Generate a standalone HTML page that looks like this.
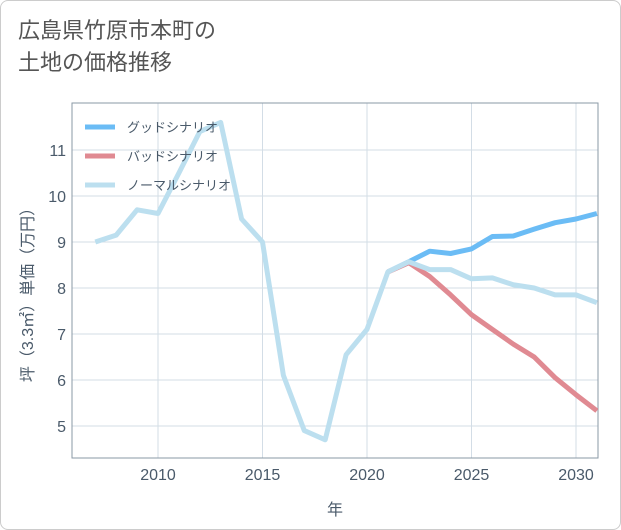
<!DOCTYPE html>
<html><head><meta charset="utf-8">
<style>
body{margin:0;background:#fff;}
#card{position:absolute;left:0;top:0;width:619px;height:528px;border:1px solid #ccc;border-radius:8px;background:#fff;overflow:hidden;}
#title{position:absolute;left:17px;top:14px;font:22px/32px "Liberation Sans","Noto Sans CJK JP",sans-serif;color:#555;}
svg text{font-family:"Liberation Sans","Noto Sans CJK JP",sans-serif;}
</style></head>
<body>
<div id="card">
<div id="title">広島県竹原市本町の<br>土地の価格推移</div>
<svg id="chart" width="621" height="530" style="position:absolute;left:0;top:0"></svg>
</div>
<script>
const years=[2007,2008,2009,2010,2011,2012,2013,2014,2015,2016,2017,2018,2019,2020,2021,2022,2023,2024,2025,2026,2027,2028,2029,2030,2031];
const normalValues=[9.0,9.15,9.7,9.62,10.5,11.4,11.6,9.5,9.0,6.1,4.9,4.7,6.55,7.1,8.35,8.57,8.4,8.4,8.2,8.22,8.07,8.0,7.85,7.85,7.68];
const futureYears=[2021,2022,2023,2024,2025,2026,2027,2028,2029,2030,2031];
const goodValues=[8.35,8.57,8.8,8.75,8.85,9.12,9.13,9.28,9.42,9.5,9.62];
const badValues=[8.35,8.55,8.25,7.85,7.42,7.1,6.78,6.5,6.05,5.68,5.33];
const xTicks=[2010,2015,2020,2025,2030];
const yTicks=[5,6,7,8,9,10,11];
const legendLabels=["グッドシナリオ","バッドシナリオ","ノーマルシナリオ"];
const legendColors=["#6bbcf5","#e08a92","#bcdfef"];

const L=71,R=597,T=102,B=457;
const x=v=>157+(v-2010)*20.9;
const y=v=>195-(v-10)*46;
const svg=document.getElementById('chart');
const NS='http://www.w3.org/2000/svg';
function mk(tag,attrs,parent){const e=document.createElementNS(NS,tag);for(const k in attrs)e.setAttribute(k,attrs[k]);(parent||svg).appendChild(e);return e;}

xTicks.forEach(t=>{
  const g=mk('line',{x1:x(t),x2:x(t),y1:T,y2:B,stroke:'#d3dde6','stroke-width':1});
  
  
  const tx=mk('text',{x:x(t),y:B+22,'text-anchor':'middle','font-size':16,fill:'#4a5a6a'});
  tx.textContent=t;
  
  
});
yTicks.forEach(t=>{
  const g=mk('line',{x1:L,x2:R,y1:y(t),y2:y(t),stroke:'#d3dde6','stroke-width':1});
  
  
  const tx=mk('text',{x:L-6,y:y(t)+6,'text-anchor':'end','font-size':16,fill:'#4a5a6a'});
  tx.textContent=t;
  
  
});
const frame=mk('rect',{x:L,y:T,width:R-L,height:B-T,fill:'none',stroke:'#8a98a6','stroke-width':1});



const defs=mk('defs',{});
const cp=mk('clipPath',{id:'clip'},defs);
mk('rect',{x:L,y:T,width:R-L,height:B-T},cp);

function line(xs,vs,color,name){
  const d=xs.map((v,i)=>(i?'L':'M')+x(v)+','+y(vs[i])).join(' ');
  const p=mk('path',{d:d,fill:'none',stroke:color,'stroke-width':5,'stroke-linejoin':'round','clip-path':'url(#clip)'});
  
  
}
line(futureYears,goodValues,legendColors[0],'good-scenario-line');
line(futureYears,badValues,legendColors[1],'bad-scenario-line');
line(years,normalValues,legendColors[2],'normal-scenario-line');

legendLabels.forEach((lab,i)=>{
  const ly=126+i*29;
  const l=mk('line',{x1:84,x2:114,y1:ly,y2:ly,stroke:legendColors[i],'stroke-width':5});
  
  
  const t=mk('text',{x:126,y:ly+5,'font-size':13,fill:'#4a5a6a'});
  t.textContent=lab;
  
  
});

const xt=mk('text',{x:334,y:514,'text-anchor':'middle','font-size':16,fill:'#4a5a6a'});
xt.textContent='年';


const yt=mk('text',{x:0,y:0,'text-anchor':'middle','font-size':16,fill:'#4a5a6a',transform:'translate(32,290) rotate(-90)'});
yt.textContent='坪（3.3㎡）単価（万円）';


</script>
</body></html>
